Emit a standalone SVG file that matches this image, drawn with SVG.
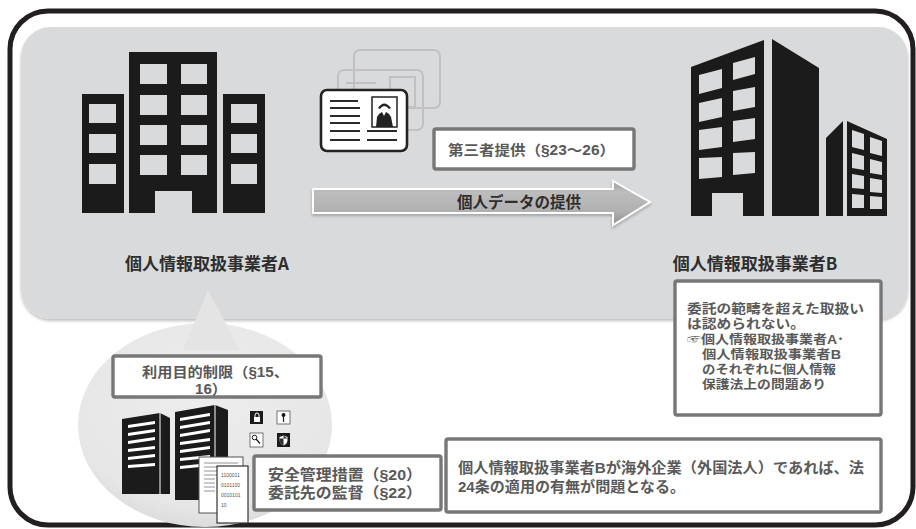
<svg xmlns="http://www.w3.org/2000/svg" width="916" height="529" viewBox="0 0 916 529">
  <defs>
    <style>
      .bld { fill: #1c1b1b; }
      .win { fill: #d9dadc; }
      .lbl { font-family: "Noto Sans CJK JP", "Noto Sans", sans-serif; font-weight: bold; fill: #2e2e2e; }
      .txt { font-family: "Liberation Sans", "Noto Sans CJK JP", sans-serif; font-weight: bold; fill: #595959; }
      .box { fill: #ffffff; stroke: #777777; stroke-width: 3.4; }
      .cardline { stroke: #2a2a2a; stroke-width: 2; }
      .slat { fill: #ffffff; }
    </style>
    <filter id="softShadow" x="-5%" y="-5%" width="110%" height="115%">
      <feDropShadow dx="0" dy="2" stdDeviation="1.5" flood-color="#000" flood-opacity="0.25"/>
    </filter>
    <linearGradient id="arrowFill" x1="0" y1="0" x2="0" y2="1">
      <stop offset="0" stop-color="#9c9c9c"/>
      <stop offset="0.25" stop-color="#bdbdbd"/>
      <stop offset="0.7" stop-color="#b0b0b0"/>
      <stop offset="1" stop-color="#8e8e8e"/>
    </linearGradient>
    <radialGradient id="bubbleFill" cx="0.5" cy="0.35" r="0.65">
      <stop offset="0" stop-color="#ededed"/>
      <stop offset="0.85" stop-color="#e6e6e6"/>
      <stop offset="1" stop-color="#dcdcdc"/>
    </radialGradient>
  </defs>

  <rect width="916" height="529" fill="#ffffff"/>

  <!-- outer frame -->
  <rect x="10" y="11" width="903" height="514" rx="38" fill="none" stroke="#231f20" stroke-width="5"/>

  <!-- upper grey panel -->
  <rect x="21" y="27" width="887" height="292" rx="30" fill="#d9dadc" filter="url(#softShadow)"/>

  <!-- speech bubble of company A -->
  <g id="bubble">
    <ellipse cx="205" cy="425" rx="127" ry="102" fill="url(#bubbleFill)"/>
    <polygon points="208,290 183,350 240,350" fill="#e4e4e4"/>
  </g>

  <!-- company A -->
  <g id="companyA">
    <rect class="bld" x="82" y="94" width="42" height="119"/>
    <rect class="bld" x="129" y="52" width="88" height="161"/>
    <rect class="bld" x="223" y="94" width="42" height="119"/>
    <g class="win">
      <rect x="89" y="104" width="27" height="19"/>
      <rect x="89" y="134" width="27" height="19"/>
      <rect x="89" y="164" width="27" height="20"/>
      <rect x="231" y="104" width="26" height="19"/>
      <rect x="231" y="134" width="26" height="19"/>
      <rect x="231" y="164" width="26" height="20"/>
      <rect x="140" y="64" width="27" height="20"/>
      <rect x="181" y="64" width="26" height="20"/>
      <rect x="140" y="95" width="27" height="20"/>
      <rect x="181" y="95" width="26" height="20"/>
      <rect x="140" y="125" width="27" height="20"/>
      <rect x="181" y="125" width="26" height="20"/>
      <rect x="140" y="155" width="27" height="20"/>
      <rect x="181" y="155" width="26" height="20"/>
      <rect x="155" y="191" width="37" height="23"/>
    </g>
    <text class="lbl" x="207" y="270" font-size="17" text-anchor="middle">個人情報取扱事業者A</text>
  </g>

  <!-- company B -->
  <g id="companyB">
    <polygon class="bld" points="691,67 764,40 764,216 691,216"/>
    <polygon class="bld" points="772,39 819,68 819,216 772,216"/>
    <polygon class="bld" points="826,138 843,121 843,216 826,216"/>
    <polygon class="bld" points="847,121 887,139 887,216 847,216"/>
    <g class="win">
      <polygon points="699,75 722,69 722,88 699,94"/>
      <polygon points="733,63 755,57 755,74 733,80"/>
      <polygon points="699,103 722,98 722,117 699,122"/>
      <polygon points="733,91 755,87 755,107 733,111"/>
      <polygon points="699,130 722,127 722,147 699,150"/>
      <polygon points="733,121 755,118 755,139 733,142"/>
      <polygon points="699,158 722,157 722,177 699,179"/>
      <polygon points="733,153 755,152 755,173 733,175"/>
      <rect x="712" y="193" width="31" height="24"/>
      <polygon points="852,130 864,134 864,150 852,147"/>
      <polygon points="870,137 882,141 882,156 870,153"/>
      <polygon points="852,153 864,156 864,170 852,168"/>
      <polygon points="870,159 882,162 882,175 870,173"/>
      <polygon points="852,174 864,176 864,189 852,188"/>
      <polygon points="870,178 882,180 882,193 870,192"/>
      <polygon points="852,194 864,195 864,208 852,208"/>
      <polygon points="870,196 882,197 882,209 870,209"/>
    </g>
    <text class="lbl" x="755" y="270" font-size="17" text-anchor="middle">個人情報取扱事業者B</text>
  </g>

  <!-- personal data cards -->
  <g id="cards">
    <g opacity="0.22" fill="none" stroke="#6e6e6e" stroke-width="2">
      <rect x="354" y="50" width="86" height="58" rx="6"/>
      <rect x="338" y="70" width="85" height="60" rx="6"/>
      <rect x="390" y="77" width="25" height="30"/>
      <line x1="346" y1="83" x2="376" y2="83"/>
      <line x1="346" y1="90" x2="376" y2="90"/>
      <line x1="346" y1="98" x2="376" y2="98"/>
      <line x1="346" y1="106" x2="376" y2="106"/>
    </g>
    <rect x="321" y="90" width="86" height="61" rx="6" fill="#ffffff" stroke="#222222" stroke-width="2.6"/>
    <g class="cardline">
      <line x1="330" y1="101" x2="358" y2="101"/>
      <line x1="330" y1="108" x2="360" y2="108"/>
      <line x1="330" y1="116" x2="360" y2="116"/>
      <line x1="330" y1="123" x2="360" y2="123"/>
      <line x1="330" y1="131" x2="360" y2="131"/>
      <line x1="367" y1="131" x2="397" y2="131"/>
      <line x1="330" y1="140" x2="360" y2="140"/>
      <line x1="367" y1="140" x2="397" y2="140"/>
    </g>
    <rect x="372" y="97" width="25" height="30" fill="#ffffff" stroke="#222222" stroke-width="1.5"/>
    <path d="M378,108 Q384,99 391,108 L389,109 Q384,103 380,109 Z" fill="#222222"/>
    <path d="M376,127 L377,117 Q379,113 382,112 L384,116 L386,112 Q389,113 391,117 L393,127 Z" fill="#222222"/>
  </g>

  <!-- transfer arrow -->
  <g id="connectors">
    <polygon points="313,189 613,189 613,181 650,202 613,225 613,213 313,213" fill="url(#arrowFill)" stroke="#ffffff" stroke-width="2" filter="url(#softShadow)"/>
    <text class="lbl" x="457" y="208" font-size="15.5">個人データの提供</text>
  </g>

  <!-- label: third party provision -->
  <g id="thirdParty">
    <rect class="box" x="434" y="129" width="200" height="40" rx="2"/>
    <text class="txt" x="448" y="155" font-size="14" textLength="167" lengthAdjust="spacingAndGlyphs">第三者提供（§23～26）</text>
  </g>

  <!-- note on company B -->
  <g id="noteB">
    <rect class="box" x="675" y="281" width="206" height="134" rx="2"/>
    <text class="txt" x="687" y="313" font-size="12.8" textLength="177" lengthAdjust="spacingAndGlyphs">委託の範疇を超えた取扱い</text>
    <text class="txt" x="687" y="328" font-size="12.8" textLength="118" lengthAdjust="spacingAndGlyphs">は認められない。</text>
    <text class="txt" x="687" y="344" font-size="12.5" textLength="157" lengthAdjust="spacingAndGlyphs">☞個人情報取扱事業者A･</text>
    <text class="txt" x="702" y="359" font-size="12.5" textLength="139" lengthAdjust="spacingAndGlyphs">個人情報取扱事業者B</text>
    <text class="txt" x="702" y="374" font-size="12.5" textLength="134" lengthAdjust="spacingAndGlyphs">のそれぞれに個人情報</text>
    <text class="txt" x="702" y="389" font-size="12.5" textLength="124" lengthAdjust="spacingAndGlyphs">保護法上の問題あり</text>
  </g>

  <!-- servers with security icons -->
  <g id="servers">
    <polygon class="bld" points="122,419 160,413 170,418 170,494 122,494"/>
    <line x1="160" y1="413" x2="160" y2="494" stroke="#ffffff" stroke-width="1"/>
    <g class="slat">
      <polygon points="128,425 155,421 155,424 128,428"/>
      <polygon points="128,433 155,429 155,432 128,436"/>
      <polygon points="128,441 155,437 155,440 128,444"/>
      <polygon points="128,449 155,446 155,449 128,452"/>
      <polygon points="128,457 155,454 155,457 128,460"/>
      <polygon points="128,465 155,463 155,466 128,468"/>
    </g>
    <polygon class="bld" points="175,412 215,405 228,410 228,500 175,500"/>
    <line x1="215" y1="405" x2="215" y2="500" stroke="#ffffff" stroke-width="1"/>
    <g class="slat">
      <polygon points="180,418 210,413 210,416 180,421"/>
      <polygon points="180,426 210,421 210,424 180,429"/>
      <polygon points="180,434 210,429 210,432 180,437"/>
      <polygon points="180,442 210,438 210,441 180,445"/>
      <polygon points="180,450 210,446 210,449 180,453"/>
      <polygon points="180,458 210,455 210,458 180,461"/>
      <polygon points="180,466 210,463 210,466 180,469"/>
    </g>
    <!-- documents -->
    <rect x="199" y="457" width="44" height="56" fill="#ffffff" stroke="#555555" stroke-width="1"/>
    <g stroke="#777777" stroke-width="0.8">
      <line x1="204" y1="463" x2="238" y2="463"/>
      <line x1="204" y1="467" x2="238" y2="467"/>
      <line x1="204" y1="471" x2="238" y2="471"/>
      <line x1="204" y1="475" x2="238" y2="475"/>
      <line x1="204" y1="479" x2="215" y2="479"/>
      <line x1="204" y1="483" x2="215" y2="483"/>
      <line x1="204" y1="487" x2="215" y2="487"/>
      <line x1="204" y1="491" x2="215" y2="491"/>
    </g>
    <rect x="217" y="466" width="31" height="57" fill="#ffffff" stroke="#333333" stroke-width="1.2"/>
    <g font-family="'Liberation Sans', sans-serif" font-size="5" fill="#555555">
      <text x="221" y="477">1100011</text>
      <text x="221" y="487">0101100</text>
      <text x="221" y="497">0010101</text>
      <text x="221" y="507">10</text>
    </g>
    <!-- security icons -->
    <rect x="250" y="411" width="13" height="13" fill="#1c1b1b"/>
    <rect x="254" y="417" width="6" height="5" fill="#ffffff"/>
    <path d="M255,417 v-2 a2,2 0 0 1 4,0 v2" fill="none" stroke="#ffffff" stroke-width="1"/>
    <rect x="277" y="411" width="13" height="13" fill="#ffffff" stroke="#555555" stroke-width="0.8"/>
    <circle cx="283.5" cy="415" r="2" fill="#1c1b1b"/>
    <line x1="283.5" y1="416" x2="283.5" y2="422" stroke="#1c1b1b" stroke-width="1.2"/>
    <rect x="250" y="433" width="13" height="14" fill="#ffffff" stroke="#555555" stroke-width="0.8"/>
    <circle cx="254.5" cy="437.5" r="2.3" fill="none" stroke="#1c1b1b" stroke-width="1"/>
    <line x1="256" y1="439" x2="260" y2="443.5" stroke="#1c1b1b" stroke-width="1.3"/>
    <rect x="277" y="433" width="13" height="14" fill="#1c1b1b"/>
    <path d="M283.5,435.5 l4,1.5 v3 q0,4 -4,5.5 q-4,-1.5 -4,-5.5 v-3 z" fill="#ffffff"/>
    <path d="M283.5,435.5 v10 q-4,-1.5 -4,-5.5 v-1.5 h8" fill="#1c1b1b" opacity="0.9"/>
  </g>

  <!-- label: purpose limitation -->
  <g id="purpose">
    <rect class="box" x="113" y="356" width="208" height="41" rx="2"/>
    <text class="txt" x="142" y="377" font-size="13.8" textLength="147" lengthAdjust="spacingAndGlyphs">利用目的制限（§15、</text>
    <text class="txt" x="195" y="393.5" font-size="13.8" textLength="32" lengthAdjust="spacingAndGlyphs">16）</text>
  </g>

  <!-- label: security measures -->
  <g id="security">
    <rect class="box" x="254" y="456" width="187" height="54" rx="2"/>
    <text class="txt" x="268" y="480" font-size="15" textLength="154" lengthAdjust="spacingAndGlyphs">安全管理措置（§20）</text>
    <text class="txt" x="268" y="498" font-size="15" textLength="154" lengthAdjust="spacingAndGlyphs">委託先の監督（§22）</text>
  </g>

  <!-- note on foreign company -->
  <g id="foreign">
    <rect class="box" x="446" y="439" width="435" height="73" rx="2"/>
    <text class="txt" x="458" y="473" font-size="14.5" textLength="406" lengthAdjust="spacingAndGlyphs">個人情報取扱事業者Bが海外企業（外国法人）であれば、法</text>
    <text class="txt" x="458" y="492" font-size="14.5" textLength="227" lengthAdjust="spacingAndGlyphs">24条の適用の有無が問題となる。</text>
  </g>
</svg>
